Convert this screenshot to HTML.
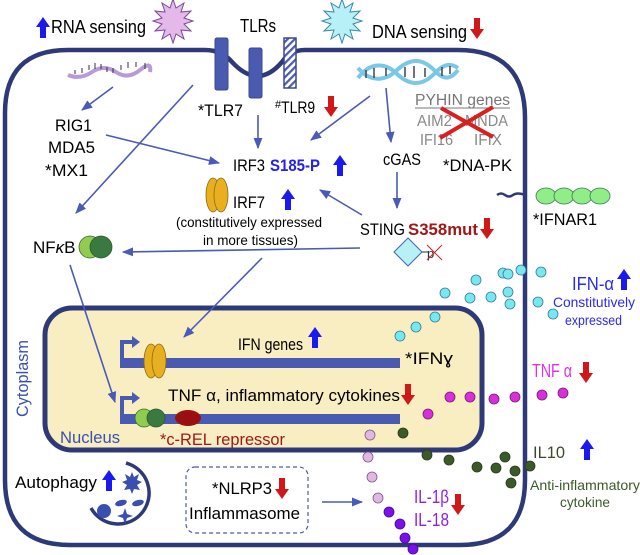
<!DOCTYPE html>
<html><head><meta charset="utf-8"><style>
html,body{margin:0;padding:0;background:#fff}
svg{display:block}
text{font-family:"Liberation Sans",sans-serif}
</style></head><body>
<svg width="640" height="555" viewBox="0 0 640 555" xmlns="http://www.w3.org/2000/svg">
<defs>
<marker id="ah" viewBox="0 0 10 10" refX="9" refY="5" markerWidth="7" markerHeight="7" orient="auto-start-reverse"><path d="M0,1 L10,5 L0,9 z" fill="#4a5ab8"/></marker>
<pattern id="hatch" width="5" height="5" patternUnits="userSpaceOnUse" patternTransform="rotate(45)"><rect width="5" height="5" fill="#fff"/><rect width="2.2" height="5" fill="#4a5ab0"/></pattern>
<g id="up"><path d="M-3,0 v-11 h-4 l7,-10 l7,10 h-4 v11 z" fill="#1a1aee"/></g>
<g id="dn"><path d="M-3,0 v11 h-4 l7,10 l7,-10 h-4 v-11 z" fill="#d01818"/></g>
</defs>

<path d="M205,50 L68,50 Q5,50 5,113 L5,480 Q5,545 70,545 L460,545 Q525,545 525,480 L525,118 Q525,50 458,50 L305,50 Q290,50 282,62 Q258,90 232,62 Q222,50 205,50 Z" fill="none" stroke="#2e3a78" stroke-width="4.5"/>

<rect x="215" y="38" width="13" height="52" rx="2" fill="#4a5ab0" stroke="#3a4890"/>
<rect x="249" y="48" width="13" height="50" rx="2" fill="#4a5ab0" stroke="#3a4890"/>
<rect x="284" y="38" width="12" height="50" fill="url(#hatch)" stroke="#3a4890" stroke-width="1.5"/>

<polygon fill="#e4b8e8" stroke="#7a4a9a" stroke-width="1" points="193,20 184,23 191,30 181,29 184,38 176,33 173,42 170,33 162,38 165,29 155,30 162,23 153,20 162,17 155,10 165,11 162,2 170,7 173,-2 176,7 184,2 181,11 191,10 184,17" transform="translate(0,1)"/>
<polygon fill="#b8f0f8" stroke="#3a8aa8" stroke-width="1" points="362,20 353,23 360,30 350,29 353,38 345,33 342,42 339,33 331,38 334,29 324,30 331,23 322,20 331,17 324,10 334,11 331,2 339,7 342,-2 345,7 353,2 350,11 360,10 353,17" transform="translate(0,1)"/>

<use href="#up" x="43" y="38"/>
<text x="51" y="33" font-size="18" textLength="95" lengthAdjust="spacingAndGlyphs">RNA sensing</text>
<text x="240" y="32" font-size="18" textLength="36" lengthAdjust="spacingAndGlyphs">TLRs</text>
<text x="372" y="38" font-size="18" textLength="95" lengthAdjust="spacingAndGlyphs">DNA sensing</text>
<use href="#dn" x="477" y="18"/>

<path d="M68,75 Q80,80 92,72 T116,72 T140,70 T150,72" fill="none" stroke="#b89ad8" stroke-width="4"/>
<g stroke="#333" stroke-width="1">
<line x1="75" y1="74" x2="75" y2="70"/><line x1="82" y1="73" x2="82" y2="68"/><line x1="89" y1="70" x2="89" y2="65"/><line x1="95" y1="69" x2="95" y2="63"/><line x1="101" y1="69" x2="101" y2="64"/><line x1="107" y1="72" x2="107" y2="67"/><line x1="113" y1="73" x2="113" y2="68"/><line x1="121" y1="70" x2="121" y2="65"/><line x1="128" y1="68" x2="128" y2="62"/><line x1="136" y1="67" x2="136" y2="62"/><line x1="145" y1="69" x2="145" y2="63"/>
</g>
<path d="M358,68 C370,82 385,82 397,70 C410,58 422,58 434,70 C445,82 452,78 458,70" fill="none" stroke="#7ac8e8" stroke-width="4"/>
<path d="M358,78 C370,62 385,62 397,74 C410,86 422,86 434,74 C445,62 452,64 458,68" fill="none" stroke="#7ac8e8" stroke-width="4"/>
<g stroke="#444" stroke-width="1.5"><line x1="366" y1="70" x2="366" y2="78"/><line x1="374" y1="68" x2="374" y2="78"/><line x1="386" y1="68" x2="386" y2="76"/><line x1="405" y1="67" x2="405" y2="77"/><line x1="414" y1="66" x2="414" y2="78"/><line x1="425" y1="68" x2="425" y2="77"/><line x1="442" y1="67" x2="442" y2="76"/><line x1="450" y1="66" x2="450" y2="74"/></g>

<text x="198" y="116" font-size="17" textLength="45" lengthAdjust="spacingAndGlyphs">*TLR7</text>
<text x="275" y="113" font-size="17"><tspan font-size="11" dy="-5">#</tspan><tspan dy="5" textLength="34" lengthAdjust="spacingAndGlyphs">TLR9</tspan></text>
<use href="#dn" x="331" y="96"/>
<text x="55" y="131" font-size="17" textLength="37" lengthAdjust="spacingAndGlyphs">RIG1</text>
<text x="48" y="153" font-size="17" textLength="47" lengthAdjust="spacingAndGlyphs">MDA5</text>
<text x="45" y="176" font-size="17" textLength="43" lengthAdjust="spacingAndGlyphs">*MX1</text>
<text x="233" y="171" font-size="17" textLength="32" lengthAdjust="spacingAndGlyphs">IRF3</text>
<text x="270" y="171" font-size="17" font-weight="bold" fill="#2222ee" textLength="50" lengthAdjust="spacingAndGlyphs">S185-P</text>
<use href="#up" x="340" y="176"/>
<ellipse cx="213" cy="195" rx="7" ry="17" fill="#e8b020" stroke="#8a6a10" stroke-width="0.8"/>
<ellipse cx="221" cy="195" rx="7" ry="17" fill="#e8b020" stroke="#8a6a10" stroke-width="0.8"/>
<text x="233" y="208" font-size="17" textLength="32" lengthAdjust="spacingAndGlyphs">IRF7</text>
<use href="#up" x="288" y="210"/>
<text x="176" y="227" font-size="14" textLength="146" lengthAdjust="spacingAndGlyphs">(constitutively expressed</text>
<text x="203" y="245" font-size="14" textLength="95" lengthAdjust="spacingAndGlyphs">in more tissues)</text>
<text x="33" y="253" font-size="17">NF<tspan font-style="italic">κ</tspan>B</text>
<circle cx="90" cy="247" r="11" fill="#90cc50" stroke="#3a6a30" stroke-width="0.8"/>
<circle cx="101" cy="247" r="11" fill="#3a7a40" stroke="#2a5a30" stroke-width="0.8"/>

<text x="415" y="105" font-size="16" fill="#777" textLength="95" lengthAdjust="spacingAndGlyphs">PYHIN genes</text>
<line x1="415" y1="108" x2="510" y2="108" stroke="#777" stroke-width="1"/>
<text x="417" y="126" font-size="16" fill="#888" textLength="35" lengthAdjust="spacingAndGlyphs">AIM2</text>
<text x="465" y="126" font-size="16" fill="#888" textLength="43" lengthAdjust="spacingAndGlyphs">MNDA</text>
<text x="420" y="145" font-size="16" fill="#888" textLength="33" lengthAdjust="spacingAndGlyphs">IFI16</text>
<text x="474" y="145" font-size="16" fill="#888" textLength="28" lengthAdjust="spacingAndGlyphs">IFIX</text>
<line x1="440" y1="138" x2="493" y2="107" stroke="#d82020" stroke-width="4"/>
<line x1="441" y1="108" x2="493" y2="137" stroke="#d82020" stroke-width="4"/>
<text x="383" y="165" font-size="17" textLength="38" lengthAdjust="spacingAndGlyphs">cGAS</text>
<text x="443" y="171" font-size="17" textLength="69" lengthAdjust="spacingAndGlyphs">*DNA-PK</text>
<text x="360" y="235" font-size="17" textLength="45" lengthAdjust="spacingAndGlyphs">STING</text>
<text x="408" y="235" font-size="17" font-weight="bold" fill="#a01818" textLength="70" lengthAdjust="spacingAndGlyphs">S358mut</text>
<use href="#dn" x="487" y="218"/>
<polygon points="408,238 422,252 408,266 394,252" fill="#b8f0f8" stroke="#3a6ab0" stroke-width="1"/>
<line x1="422" y1="252" x2="428" y2="252" stroke="#333"/>
<text x="427" y="258" font-size="13" fill="#333">p</text>
<line x1="427" y1="245" x2="442" y2="260" stroke="#d02020" stroke-width="1"/><line x1="442" y1="245" x2="427" y2="260" stroke="#d02020" stroke-width="1"/>

<path d="M497,195 q4,-3 8,0 t8,0 t12,0" fill="none" stroke="#2e3a78" stroke-width="2.5"/>
<g fill="#90ee88" stroke="#3a7a50" stroke-width="0.8">
<ellipse cx="546" cy="196" rx="10" ry="8"/><ellipse cx="564" cy="196" rx="10" ry="8"/><ellipse cx="582" cy="196" rx="10" ry="8"/><ellipse cx="600" cy="196" rx="10" ry="8"/></g>
<text x="533" y="225" font-size="17" textLength="64" lengthAdjust="spacingAndGlyphs">*IFNAR1</text>

<rect x="45" y="308" width="437" height="142" rx="27" fill="#f8eec2" stroke="#2e3a78" stroke-width="5"/>
<rect x="120" y="358" width="280" height="10" fill="#4a5ab0"/>
<rect x="120" y="414" width="280" height="10" fill="#4a5ab0"/>
<path d="M122,358 v-16 h10" fill="none" stroke="#4a5ab0" stroke-width="4"/><path d="M132,336 l8,6 l-8,6 z" fill="#4a5ab0"/>
<path d="M122,414 v-16 h10" fill="none" stroke="#4a5ab0" stroke-width="4"/><path d="M132,392 l8,6 l-8,6 z" fill="#4a5ab0"/>
<ellipse cx="151" cy="361" rx="7" ry="17" fill="#e8b020" stroke="#8a6a10" stroke-width="0.8"/>
<ellipse cx="159" cy="361" rx="7" ry="17" fill="#e8b020" stroke="#8a6a10" stroke-width="0.8"/>
<circle cx="144" cy="418" r="9" fill="#90cc50" stroke="#3a6a30" stroke-width="0.8"/>
<circle cx="156" cy="418" r="9" fill="#3a7a40" stroke="#2a5a30" stroke-width="0.8"/>
<ellipse cx="188" cy="418" rx="13" ry="8" fill="#9a1010"/>
<text x="238" y="350" font-size="17" textLength="65" lengthAdjust="spacingAndGlyphs">IFN genes</text>
<use href="#up" x="315" y="348"/>
<text x="405" y="364" font-size="17" textLength="48" lengthAdjust="spacingAndGlyphs">*IFNɣ</text>
<text x="168" y="401" font-size="17" textLength="232" lengthAdjust="spacingAndGlyphs">TNF α, inflammatory cytokines</text>
<use href="#dn" x="408" y="384"/>
<text x="60" y="443" font-size="17" fill="#3a50b0" textLength="60" lengthAdjust="spacingAndGlyphs">Nucleus</text>
<text x="160" y="445" font-size="17" fill="#a01818" textLength="125" lengthAdjust="spacingAndGlyphs">*c-REL repressor</text>
<text transform="translate(28,417) rotate(-90)" font-size="17" fill="#3a50b0" textLength="77" lengthAdjust="spacingAndGlyphs">Cytoplasm</text>

<g stroke="#4a5ab8" stroke-width="1.6" fill="none" marker-end="url(#ah)">
<line x1="113" y1="87" x2="82" y2="110"/>
<line x1="193" y1="85" x2="76" y2="213"/>
<line x1="106" y1="135" x2="219" y2="163"/>
<line x1="258" y1="115" x2="258" y2="148"/>
<line x1="370" y1="96" x2="311" y2="140"/>
<line x1="386" y1="88" x2="391" y2="142"/>
<line x1="397" y1="172" x2="397" y2="208"/>
<line x1="362" y1="215" x2="320" y2="190"/>
<line x1="360" y1="248" x2="123" y2="252"/>
<line x1="262" y1="258" x2="184" y2="337"/>
<line x1="70" y1="265" x2="115" y2="402"/>
<line x1="322" y1="502" x2="362" y2="502"/>
</g>

<text x="15" y="488" font-size="17" textLength="82" lengthAdjust="spacingAndGlyphs">Autophagy</text>
<use href="#up" x="109" y="491"/>
<path d="M126,463 A31,31 0 1 1 91,508" fill="none" stroke="#2e3a78" stroke-width="3.5"/>
<polygon points="132,472 134,477 139,474 137,480 142,482 137,485 140,490 134,489 132,494 130,489 124,490 127,485 122,482 127,480 125,474 130,477" fill="#3a50b0"/>
<circle cx="104" cy="511" r="7" fill="#3a50b0"/>
<ellipse cx="121" cy="503" rx="6" ry="3" fill="#3a50b0" transform="rotate(-15 121 503)"/>
<ellipse cx="138" cy="503" rx="6" ry="3" fill="#3a50b0" transform="rotate(-15 138 503)"/>
<path d="M125,508 l2,6 l6,2 l-6,2 l-2,6 l-2,-6 l-6,-2 l6,-2 z" fill="#3a50b0"/>

<rect x="186" y="467" width="122" height="66" rx="9" fill="none" stroke="#4a5ab0" stroke-width="1.2" stroke-dasharray="4,3"/>
<text x="212" y="494" font-size="17" textLength="60" lengthAdjust="spacingAndGlyphs">*NLRP3</text>
<use href="#dn" x="282" y="478"/>
<text x="189" y="519" font-size="17" textLength="111" lengthAdjust="spacingAndGlyphs">Inflammasome</text>

<g fill="#78e8f0" stroke="#3a7a9a" stroke-width="0.8">
<circle cx="400" cy="336" r="5"/><circle cx="416" cy="327" r="5"/><circle cx="435" cy="317" r="5"/><circle cx="445" cy="293" r="5"/><circle cx="476" cy="280" r="5"/><circle cx="470" cy="298" r="5"/><circle cx="491" cy="297" r="5"/><circle cx="503" cy="273" r="5"/><circle cx="508" cy="274" r="5"/><circle cx="508" cy="292" r="5"/><circle cx="510" cy="304" r="5"/><circle cx="521" cy="270" r="5"/><circle cx="541" cy="272" r="5"/><circle cx="538" cy="302" r="5"/><circle cx="553" cy="314" r="5"/></g>
<g fill="#d830d8" stroke="#7a1a7a" stroke-width="0.8">
<circle cx="428" cy="414" r="5"/><circle cx="450" cy="397" r="5"/><circle cx="470" cy="397" r="5"/><circle cx="494" cy="399" r="5"/><circle cx="515" cy="397" r="5"/><circle cx="542" cy="395" r="5"/><circle cx="563" cy="393" r="5"/></g>
<g fill="#3a5a28" stroke="#2a3a1a" stroke-width="0.8">
<circle cx="403" cy="433" r="5"/><circle cx="427" cy="455" r="5"/><circle cx="449" cy="460" r="5"/><circle cx="477" cy="467" r="5"/><circle cx="496" cy="468" r="5"/><circle cx="505" cy="457" r="5"/><circle cx="515" cy="471" r="5"/><circle cx="511" cy="483" r="5"/><circle cx="530" cy="466" r="5"/></g>
<g fill="#e0b8e0" stroke="#7a5a8a" stroke-width="0.8">
<circle cx="370" cy="435" r="5"/><circle cx="368" cy="457" r="5"/><circle cx="372" cy="477" r="5"/><circle cx="378" cy="498" r="5"/></g>
<g fill="#7a10ee" stroke="#4a0a8a" stroke-width="0.8">
<circle cx="389" cy="512" r="5"/><circle cx="400" cy="524" r="5"/><circle cx="405" cy="538" r="5"/><circle cx="413" cy="549" r="5"/></g>

<text x="572" y="290" font-size="18" fill="#2a2aee" textLength="42" lengthAdjust="spacingAndGlyphs">IFN-α</text>
<use href="#up" x="624" y="290"/>
<text x="553" y="307" font-size="14" fill="#2a2aee" textLength="82" lengthAdjust="spacingAndGlyphs">Constitutively</text>
<text x="565" y="325" font-size="14" fill="#2a2aee" textLength="57" lengthAdjust="spacingAndGlyphs">expressed</text>
<text x="532" y="377" font-size="18" fill="#e030e0" textLength="40" lengthAdjust="spacingAndGlyphs">TNF α</text>
<use href="#dn" x="586" y="362"/>
<text x="533" y="458" font-size="17" fill="#3a4a28" textLength="32" lengthAdjust="spacingAndGlyphs">IL10</text>
<use href="#up" x="587" y="460"/>
<text x="530" y="490" font-size="14" fill="#3a5a28" textLength="110" lengthAdjust="spacingAndGlyphs">Anti-inflammatory</text>
<text x="560" y="507" font-size="14" fill="#3a5a28" textLength="50" lengthAdjust="spacingAndGlyphs">cytokine</text>
<text x="414" y="503" font-size="18" fill="#8a20ee" textLength="35" lengthAdjust="spacingAndGlyphs">IL-1β</text>
<text x="414" y="526" font-size="18" fill="#8a20ee" textLength="35" lengthAdjust="spacingAndGlyphs">IL-18</text>
<use href="#dn" x="458" y="494"/>
</svg>
</body></html>
